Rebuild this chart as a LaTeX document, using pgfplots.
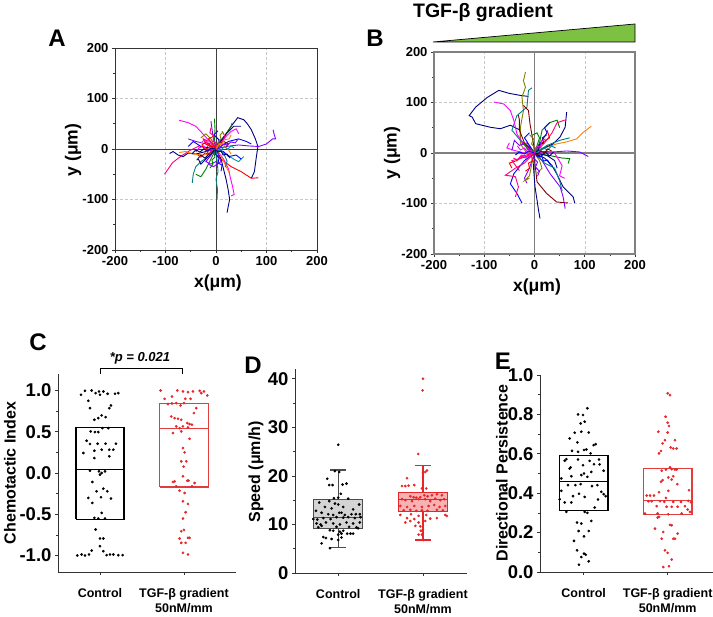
\documentclass[border=0pt]{standalone}
\usepackage{pgfplots}
\pgfplotsset{compat=1.18}
\usepackage{fontspec}
\setmainfont{Liberation Sans}
\definecolor{cnavy}{HTML}{000080}
\definecolor{cblue}{HTML}{0000FF}
\definecolor{cred}{HTML}{FF0000}
\definecolor{cmag}{HTML}{FF00FF}
\definecolor{cviol}{HTML}{8000FF}
\definecolor{cteal}{HTML}{008080}
\definecolor{colive}{HTML}{808000}
\definecolor{cmaroon}{HTML}{800000}
\definecolor{corange}{HTML}{FF8000}
\definecolor{cgreen}{HTML}{008000}
\definecolor{cpink}{HTML}{FF0080}
\definecolor{ccyan}{HTML}{009999}
\definecolor{bred}{HTML}{E8262A}
\definecolor{bredline}{HTML}{E23C3C}
\definecolor{wedge}{HTML}{7DC142}
\pgfplotsset{
  trajax/.style={scale only axis, anchor=south west, width=202pt, height=202pt,
    xmin=-200,xmax=200,ymin=-200,ymax=200,
    xtick={-200,-100,0,100,200}, ytick={-200,-100,0,100,200},
    xticklabels={-200,-100,0,100,200}, yticklabels={-200,-100,0,100,200},
    minor tick num=1, tick align=outside, tick pos=left,
    grid=major, major grid style={densely dashed, black!22, line width=0.4pt},
    major tick length=3pt, minor tick length=2pt,
    tick style={black!80, line width=0.6pt},
    ticklabel style={font=\bfseries\fontsize{13}{13}\selectfont},
    every axis plot/.append style={line width=0.9pt}},
  boxax/.style={scale only axis, anchor=south west, clip=false,
    axis x line*=bottom, axis y line*=left,
    axis line style={-, line width=0.8pt, black!80},
    tick align=outside, xtick={1,2},
    xticklabels={Control,{TGF-β gradient\\50nM/mm}},
    xticklabel style={align=center, font=\bfseries\fontsize{12.5}{15}\selectfont, yshift=-10pt},
    yticklabel style={font=\bfseries\fontsize{18.5}{18}\selectfont},
    minor y tick num=1, major tick length=3pt, minor tick length=2pt,
    tick style={black!80, line width=0.6pt}},
  ptsk/.style={only marks, mark=*, mark size=1.15pt, black},
  ptsr/.style={only marks, mark=*, mark size=1.15pt, bred},
  bx/.style={line width=1.2pt, line join=miter, mark=none}
}
\begin{document}
\begin{tikzpicture}
\useasboundingbox (0pt,0pt) rectangle (713pt,617pt);
% ---------------- Panel A ----------------
\begin{axis}[trajax, at={(115pt,367pt)}, axis line style={black!80, line width=0.8pt}]
\draw[black!75, line width=0.9pt] (axis cs:0,-200) -- (axis cs:0,200);
\draw[black!75, line width=0.9pt] (axis cs:-200,0) -- (axis cs:200,0);
\addplot[cnavy] coordinates {(0,0)(8,15)(20,30)(30,45)(43,62)(55,58)(62,50)(70,38)(78,20)(83,5)(80,-15)(78,-30)(76,-45)(70,-58)};
\addplot[cviol] coordinates {(0,0)(20,5)(45,8)(65,6)(85,5)(100,10)(112,20)(118,20)(115,30)(113,38)};
\addplot[cred] coordinates {(0,0)(-5,-5)(10,-20)(30,-35)(50,-45)(70,-58)(84,-57)};
\addplot[cpink] coordinates {(0,0)(-15,0)(-33,6)(-50,-2)(-69,-14)(-86,-27)(-95,-40)(-102,-50)};
\addplot[cmag] coordinates {(0,0)(-8,10)(-26,30)(-40,45)(-55,52)(-73,57)};
\addplot[cnavy] coordinates {(0,0)(-20,-5)(-40,-10)(-55,-8)(-65,-15)(-75,-12)(-85,-5)(-92,-9)};
\addplot[cteal] coordinates {(0,0)(2,-20)(4,-45)(0,-60)(3,-80)(2,-100)};
\addplot[cnavy] coordinates {(0,0)(10,-20)(15,-40)(20,-60)(24,-80)(27,-100)(24,-115)(22,-126)};
\addplot[cmag] coordinates {(0,0)(15,-20)(25,-40)(28,-55)(33,-75)(36,-90)(30,-93)};
\addplot[cgreen] coordinates {(0,0)(-3,20)(-2,40)(-3,60)};
\addplot[cgreen] coordinates {(0,0)(10,15)(20,30)(30,45)(32,52)};
\addplot[cteal] coordinates {(0,0)(-15,-15)(-30,-25)(-40,-35)(-45,-50)(-47,-67)};
\addplot[cgreen] coordinates {(0,0)(-10,-20)(-20,-40)(-30,-55)(-40,-50)};
\addplot[corange] coordinates {(0,0)(-10,-10)(-25,-12)(-45,-10)(-60,-5)(-73,-7)};
\addplot[corange] coordinates {(0,0)(10,-15)(20,-35)(26,-47)};
\addplot[cviol] coordinates {(0,0)(-5,20)(-8,40)(-10,55)};
\addplot[cblue] coordinates {(0,0)(25,15)(45,20)(60,15)(70,10)};
\addplot[cnavy] coordinates {(0,0)(20,30)(35,45)(50,45)};
\addplot[cviol] coordinates {(0,0)(-20,10)(-40,15)(-55,20)};
\addplot[colive] coordinates {(0,0)(-10,20)(-20,30)(-30,22)};
\addplot[cred] coordinates {(0,0)(-10,5)(-20,10)(-25,20)(-15,15)};
\addplot[ccyan] coordinates {(0,0)(20,-10)(35,-20)(45,-25)(55,-15)};
\addplot[cmag] coordinates {(0,0)(20,25)(30,35)(40,40)(45,30)};
\addplot[cblue] coordinates {(0,0)(15,-5)(25,-15)(40,-12)(50,-20)};
\addplot[cmaroon] coordinates {(0,0)(5,10)(15,15)(25,10)(20,5)};
\addplot[cviol] coordinates {(0,0)(-12,-15)(-20,-25)(-10,-30)(0,-25)};
\addplot[cred] coordinates {(0,0)(-15,8)(-20,-3)(-12,-12)};
\addplot[cpink] coordinates {(0,0)(10,10)(18,25)(12,35)};
\addplot[cnavy] coordinates {(0,0)(-20,-20)(-30,-30)(-35,-20)};
\addplot[corange] coordinates {(0,0)(5,12)(15,8)(25,-2)(30,-10)};
\addplot[cblue] coordinates {(0,0)(-30,5)(-45,15)(-55,5)};
\addplot[cred] coordinates {(0,0)(-8,12)(-15,20)(-5,25)};
\addplot[cviol] coordinates {(0,0)(10,-25)(-5,-35)(-15,-30)};
\addplot[cnavy] coordinates {(0,0)(-12,-8)(-22,-18)(-30,-12)(-38,-22)};
\addplot[cmag] coordinates {(0,0)(-18,-4)(-24,6)(-34,2)(-40,-6)};
\addplot[cteal] coordinates {(0,0)(14,-6)(22,-24)(18,-36)};
\addplot[cblue] coordinates {(0,0)(6,18)(-4,28)(4,36)};
\addplot[cred] coordinates {(0,0)(-20,14)(-28,8)(-22,-2)};
\addplot[cmag] coordinates {(0,0)(-6,4)(-10,12)(-16,10)(-22,18)(-28,14)};
\addplot[cnavy] coordinates {(0,0)(4,-6)(10,-4)(14,-12)(22,-10)(28,-18)};
\addplot[cgreen] coordinates {(0,0)(-4,-8)(-2,-16)(-8,-22)(-6,-30)(-12,-38)};
\addplot[colive] coordinates {(0,0)(6,6)(4,14)(10,20)(8,28)(14,34)};
\addplot[cred] coordinates {(0,0)(-8,-2)(-14,-10)(-22,-8)(-30,-16)(-36,-12)};
\addplot[cviol] coordinates {(0,0)(8,2)(14,10)(22,8)(30,14)(38,12)(44,20)};
\addplot[cpink] coordinates {(0,0)(2,10)(-6,16)(-4,26)(-12,32)(-10,42)};
\addplot[cblue] coordinates {(0,0)(-2,-10)(6,-18)(4,-28)(12,-32)(10,-44)};
\addplot[ccyan] coordinates {(0,0)(10,-2)(16,4)(24,0)(30,6)(36,2)};
\addplot[cnavy] coordinates {(0,0)(-10,2)(-16,-4)(-24,0)(-32,-6)(-40,-2)(-48,-10)};
\addplot[corange] coordinates {(0,0)(4,8)(12,10)(16,18)(26,20)(30,28)};
\addplot[cred] coordinates {(0,0)(-4,6)(-12,4)(-14,12)(-20,8)};
\end{axis}
% ---------------- Panel B ----------------
\begin{axis}[trajax, at={(434pt,363pt)}, width=201pt, axis line style={black!50, line width=1.3pt}]
\draw[black!50, line width=1.3pt] (axis cs:0,-200) -- (axis cs:0,200);
\draw[black!50, line width=1.3pt] (axis cs:-200,0) -- (axis cs:200,0);
\addplot[cnavy] coordinates {(0,0)(-10,10)(-28,25)(-28,45)(-48,55)(-68,48)(-88,51)(-117,58)(-124,71)(-130,74)(-117,91)(-94,110)(-71,124)(-50,118)(-28,114)(-12,112)};
\addplot[colive] coordinates {(0,0)(-15,-1)(-28,18)(-28,51)(-22,84)(-25,111)(-18,130)(-22,143)(-18,160)};
\addplot[cteal] coordinates {(0,0)(-15,10)(-28,25)(-45,45)(-35,74)(-15,91)(-12,124)(-5,129)};
\addplot[cmag] coordinates {(0,0)(-20,15)(-35,38)(-41,64)(-48,84)(-61,97)(-81,101)};
\addplot[cmaroon] coordinates {(0,0)(-2,18)(-9,58)(-12,84)(-22,94)};
\addplot[cmaroon] coordinates {(0,0)(-20,20)(-30,45)(-30,65)(-32,75)};
\addplot[corange] coordinates {(0,0)(20,10)(44,18)(64,22)(84,28)(97,41)(113,53)};
\addplot[cmaroon] coordinates {(0,0)(1,-21)(5,-57)(24,-80)(44,-97)(67,-99)};
\addplot[cnavy] coordinates {(0,0)(20,-10)(35,-25)(44,-41)(57,-67)(77,-87)(80,-99)};
\addplot[cviol] coordinates {(0,0)(20,3)(37,2)(64,4)(90,2)(107,-7)};
\addplot[cviol] coordinates {(0,0)(15,-15)(31,-41)(51,-67)(57,-87)(61,-110)};
\addplot[cnavy] coordinates {(0,0)(-2,-28)(1,-67)(5,-93)(8,-113)(11,-130)};
\addplot[cblue] coordinates {(0,0)(-20,-15)(-41,-41)(-48,-61)(-35,-80)(-25,-99)};
\addplot[cpink] coordinates {(0,0)(-20,-20)(-38,-30)(-58,-44)(-38,-47)(-32,-67)(-38,-87)};
\addplot[cnavy] coordinates {(0,0)(15,8)(37,18)(51,32)(61,51)(64,81)};
\addplot[cgreen] coordinates {(0,0)(10,20)(15,45)(30,60)(45,65)(50,50)};
\addplot[cgreen] coordinates {(0,0)(30,-5)(55,-10)(70,-11)(67,-21)};
\addplot[cteal] coordinates {(0,0)(25,15)(50,25)(70,30)};
\addplot[cred] coordinates {(0,0)(-20,-5)(-35,-15)(-50,-20)(-45,-30)};
\addplot[cmag] coordinates {(0,0)(-20,0)(-40,5)(-55,10)(-50,20)};
\addplot[cpink] coordinates {(0,0)(20,20)(35,40)(45,60)(60,65)};
\addplot[cblue] coordinates {(0,0)(15,25)(25,40)(20,50)(30,60)};
\addplot[cviol] coordinates {(0,0)(-10,-30)(-20,-50)(-15,-60)};
\addplot[cmag] coordinates {(0,0)(40,0)(55,-25)(50,-45)(60,-50)};
\addplot[cteal] coordinates {(0,0)(20,-20)(40,-30)(50,-55)(55,-75)};
\addplot[colive] coordinates {(0,0)(-5,-20)(-10,-45)(-20,-55)(-10,-50)};
\addplot[cpink] coordinates {(0,0)(-25,-10)(-45,-15)(-30,-35)};
\addplot[cnavy] coordinates {(0,0)(25,-5)(40,-15)(45,-30)};
\addplot[cviol] coordinates {(0,0)(-15,20)(-30,15)(-40,25)(-45,5)};
\addplot[cgreen] coordinates {(0,0)(10,30)(5,40)(-5,35)};
\addplot[cred] coordinates {(0,0)(15,20)(30,30)(25,45)};
\addplot[colive] coordinates {(0,0)(10,-15)(15,-30)(5,-40)};
\addplot[cblue] coordinates {(0,0)(-10,15)(-20,30)(-10,40)};
\addplot[cmag] coordinates {(0,0)(-14,-8)(-26,-4)(-34,-14)};
\addplot[cnavy] coordinates {(0,0)(12,-8)(22,2)(30,-6)(38,2)};
\addplot[cteal] coordinates {(0,0)(8,12)(18,8)(26,16)};
\addplot[cmag] coordinates {(0,0)(-8,6)(-14,2)(-20,10)(-28,6)(-34,14)};
\addplot[cblue] coordinates {(0,0)(6,-8)(14,-6)(18,-16)(26,-14)(32,-24)};
\addplot[cred] coordinates {(0,0)(-6,-6)(-4,-16)(-12,-20)(-10,-30)(-18,-36)};
\addplot[cnavy] coordinates {(0,0)(8,6)(10,16)(18,20)(16,30)(24,36)};
\addplot[cpink] coordinates {(0,0)(-10,-2)(-18,-10)(-26,-6)(-34,-14)(-42,-10)};
\addplot[cteal] coordinates {(0,0)(10,2)(18,10)(26,6)(34,14)(42,10)};
\addplot[colive] coordinates {(0,0)(2,10)(-6,18)(-2,28)(-10,36)};
\addplot[cviol] coordinates {(0,0)(-2,-10)(6,-18)(2,-28)(10,-36)(6,-46)};
\addplot[cgreen] coordinates {(0,0)(-6,8)(-14,6)(-18,16)(-26,20)};
\addplot[cmaroon] coordinates {(0,0)(6,-4)(12,4)(20,0)(26,8)(34,4)};
\addplot[cblue] coordinates {(0,0)(-12,4)(-20,-2)(-30,2)(-38,-4)};
\addplot[cmag] coordinates {(0,0)(4,12)(12,14)(14,24)(22,28)};
\end{axis}
% gradient wedge and title
\filldraw[fill=wedge, draw=black, line width=0.7pt] (433pt,575pt) -- (635pt,593pt) -- (635pt,575pt) -- cycle;
\node[font=\bfseries\fontsize{19.5}{20}\selectfont] at (483pt,604pt) {TGF-β gradient};
% ---------------- Panel C ----------------
\begin{axis}[boxax, at={(58pt,45pt)}, width=178pt, height=198pt,
  xmin=0.5, xmax=2.62, ymin=-1.2, ymax=1.2,
  ytick={-1,-0.5,0,0.5,1}, yticklabels={-1.0,-0.5,0.0,0.5,1.0}]
\addplot[bx, draw=black] coordinates {(0.715,-0.56)(1.285,-0.56)(1.285,0.55)(0.715,0.55)(0.715,-0.56)};
\addplot[bx, draw=black] coordinates {(0.715,0.04)(1.285,0.04)};
\addplot[bx, draw=bredline] coordinates {(1.71,-0.17)(2.29,-0.17)(2.29,0.84)(1.71,0.84)(1.71,-0.17)};
\addplot[bx, draw=bredline] coordinates {(1.71,0.54)(2.29,0.54)};
\addplot[ptsk] coordinates {(0.774,0.948)(0.821,0.996)(0.901,1.0)(0.948,0.968)(0.988,0.988)(1.0,0.948)(1.040,0.988)(1.091,0.96)(1.179,0.96)(1.218,0.968)(0.861,0.875)(0.881,0.786)(1.111,0.786)(1.131,0.819)(0.933,0.645)(0.980,0.665)(1.020,0.698)(1.067,0.677)(0.889,0.504)(0.940,0.496)(0.980,0.496)(1.028,0.544)(1.099,0.544)(0.841,0.391)(0.881,0.351)(0.972,0.355)(1.067,0.355)(1.190,0.355)(0.802,0.242)(0.933,0.270)(1.020,0.282)(1.111,0.282)(1.159,0.282)(0.933,0.181)(1.111,0.202)(0.881,0.028)(0.988,0.020)(1.020,0.0)(1.060,0.020)(1.0,-0.020)(0.909,-0.109)(0.960,-0.222)(1.040,-0.190)(1.087,-0.222)(0.861,-0.302)(0.909,-0.363)(1.012,-0.294)(1.131,-0.310)(1.020,-0.484)(0.933,-0.544)(0.980,-0.552)(1.060,-0.552)(0.948,-0.685)(1.0,-0.794)(1.040,-0.794)(1.0,-0.887)(0.901,-0.940)(1.040,-0.948)(0.730,-1.0)(0.782,-0.988)(0.821,-1.0)(0.869,-0.988)(1.079,-0.996)(1.119,-0.988)(1.159,-0.988)(1.218,-0.996)(1.270,-0.996)};
\addplot[ptsr] coordinates {(1.722,1.0)(1.921,1.0)(1.988,0.988)(2.048,0.980)(2.107,0.988)(2.187,0.996)(2.238,0.988)(2.206,0.968)(2.278,0.940)(1.770,0.899)(1.857,0.927)(2.016,0.899)(2.079,0.899)(1.810,0.835)(1.857,0.843)(1.909,0.847)(1.960,0.819)(2.0,0.847)(2.147,0.786)(2.119,0.726)(1.849,0.685)(1.889,0.665)(1.929,0.657)(1.968,0.645)(2.040,0.605)(2.067,0.593)(2.095,0.585)(1.909,0.565)(1.988,0.565)(2.048,0.552)(1.948,0.544)(1.869,0.484)(1.968,0.504)(2.067,0.415)(1.988,0.302)(2.008,0.250)(1.968,0.141)(2.028,0.141)(1.996,0.077)(1.988,-0.040)(1.889,-0.101)(1.869,-0.109)(2.040,-0.093)(2.056,-0.093)(2.127,-0.121)(1.909,-0.161)(1.948,-0.214)(2.008,-0.242)(2.095,-0.161)(1.988,-0.343)(2.048,-0.375)(2.020,-0.476)(1.988,-0.552)(1.968,-0.706)(2.0,-0.690)(1.948,-0.794)(1.968,-0.847)(2.048,-0.786)(2.067,-0.786)(2.020,-0.847)(1.988,-0.968)(2.048,-0.988)};
\end{axis}
\draw[black, line width=0.7pt] (100pt,243pt) -- (100pt,249pt) -- (182pt,249pt) -- (182pt,243pt);
\node[font=\bfseries\itshape\fontsize{13}{13}\selectfont] at (140pt,259pt) {*p = 0.021};
% ---------------- Panel D ----------------
\begin{axis}[boxax, at={(295pt,44pt)}, width=172pt, height=204pt,
  xmin=0.49, xmax=2.52, ymin=0, ymax=42,
  ytick={0,10,20,30,40}, yticklabels={0,10,20,30,40}]
\addplot[bx, draw=black!70] coordinates {(1,15.2)(1,21.2)};
\addplot[bx, draw=black!70] coordinates {(1,9.15)(1,5.2)};
\addplot[bx, draw=black!70] coordinates {(0.905,21.2)(1.095,21.2)};
\addplot[bx, draw=black!70] coordinates {(0.905,5.2)(1.095,5.2)};
\addplot[bx, draw=black!70, fill=black!17] coordinates {(0.71,9.15)(1.29,9.15)(1.29,15.2)(0.71,15.2)(0.71,9.15)};
\addplot[bx, draw=black!70] coordinates {(0.71,11.5)(1.29,11.5)};
\addplot[bx, draw=bred] coordinates {(2,16.6)(2,22.1)};
\addplot[bx, draw=bred] coordinates {(2,12.6)(2,6.8)};
\addplot[bx, draw=bred] coordinates {(1.905,22.1)(2.095,22.1)};
\addplot[bx, draw=bred] coordinates {(1.905,6.8)(2.095,6.8)};
\addplot[bx, draw=bred, fill=bred!35] coordinates {(1.71,12.6)(2.29,12.6)(2.29,16.6)(1.71,16.6)(1.71,12.6)};
\addplot[bx, draw=bred] coordinates {(1.71,15.1)(2.29,15.1)};
\addplot[ptsk] coordinates {(1.0,26.4)(0.961,20.97)(1.012,20.8)(0.871,19.4)(0.894,18.1)(0.933,18.1)(1.051,18.2)(1.098,18.4)(1.031,16.3)(1.0,15.5)(0.776,14.5)(0.894,14.8)(0.949,15.4)(0.961,14.3)(1.0,14.1)(0.843,13.6)(0.922,13.3)(1.059,13.6)(1.118,15.3)(1.176,13.1)(1.247,14.1)(0.737,12.8)(0.804,12.4)(0.882,12.1)(0.941,11.95)(1.012,12.4)(1.039,12.4)(1.078,11.95)(1.157,12.1)(1.208,12.1)(1.255,12.1)(0.706,11.1)(0.753,11.0)(0.824,11.3)(0.910,11.1)(0.980,11.5)(1.059,11.4)(1.118,11.5)(1.196,11.3)(1.263,11.5)(0.745,10.2)(0.792,10.0)(0.855,10.4)(0.941,10.2)(1.020,10.0)(1.098,10.4)(1.176,10.2)(1.255,10.4)(0.765,9.4)(0.804,9.7)(0.980,9.5)(1.129,9.5)(1.216,9.4)(1.235,9.2)(0.902,8.8)(0.941,8.7)(1.020,8.5)(1.059,8.7)(0.824,7.4)(0.855,7.2)(1.0,7.9)(1.039,8.1)(1.106,8.1)(1.145,8.1)(1.176,8.1)(0.922,7.0)(1.039,7.3)(0.804,6.1)(1.0,6.8)(0.902,5.1)};
\addplot[ptsr] coordinates {(2.0,40.0)(1.996,37.6)(1.945,24.5)(2.0,20.6)(2.027,20.8)(2.047,21.1)(1.812,19.5)(1.753,17.9)(1.792,17.9)(1.831,18.0)(1.898,18.1)(1.988,17.4)(2.039,17.4)(1.851,15.8)(1.890,15.6)(1.922,15.5)(1.969,15.6)(2.016,16.0)(2.055,15.8)(2.106,16.0)(2.165,16.2)(2.224,16.0)(1.753,15.2)(1.792,15.0)(1.871,14.8)(1.949,15.2)(2.027,15.2)(2.086,14.8)(2.145,15.3)(2.204,15.0)(2.251,15.2)(1.733,13.8)(1.812,13.6)(1.898,13.8)(1.988,13.6)(2.067,13.8)(2.133,14.0)(2.196,13.6)(2.263,13.8)(1.773,12.9)(1.851,13.0)(1.922,12.8)(1.988,12.9)(2.055,12.8)(2.165,13.0)(2.235,12.9)(1.733,11.95)(1.859,12.1)(1.949,11.75)(2.039,11.95)(2.263,11.95)(1.812,11.3)(1.898,11.1)(2.086,11.2)(2.165,11.3)(2.282,11.75)(1.792,10.4)(1.851,10.7)(1.949,10.4)(2.027,10.7)(1.910,9.7)(1.969,9.6)(2.0,8.9)(1.976,8.7)(1.949,7.9)(1.988,7.9)(2.008,6.8)};
\end{axis}
% ---------------- Panel E ----------------
\begin{axis}[boxax, at={(540pt,45pt)}, width=173pt, height=197pt,
  xmin=0.48, xmax=2.54, ymin=0, ymax=1,
  ytick={0,0.2,0.4,0.6,0.8,1.0}, yticklabels={0.0,0.2,0.4,0.6,0.8,1.0}]
\addplot[bx, draw=black] coordinates {(0.71,0.312)(1.29,0.312)(1.29,0.59)(0.71,0.59)(0.71,0.312)};
\addplot[bx, draw=black] coordinates {(0.71,0.461)(1.29,0.461)};
\addplot[bx, draw=bredline] coordinates {(1.71,0.292)(2.29,0.292)(2.29,0.524)(1.71,0.524)(1.71,0.292)};
\addplot[bx, draw=bredline] coordinates {(1.71,0.363)(2.29,0.363)};
\addplot[ptsk] coordinates {(1.044,0.831)(0.933,0.80)(0.992,0.797)(1.012,0.763)(0.964,0.754)(0.893,0.707)(0.972,0.712)(1.060,0.708)(0.833,0.678)(0.925,0.658)(1.119,0.644)(1.143,0.649)(0.861,0.615)(0.933,0.61)(1.004,0.619)(1.032,0.622)(1.083,0.602)(0.794,0.573)(0.774,0.565)(0.933,0.571)(1.071,0.564)(1.183,0.571)(0.833,0.525)(0.845,0.531)(0.992,0.542)(1.123,0.547)(1.190,0.546)(1.238,0.514)(0.734,0.475)(0.853,0.486)(0.972,0.492)(1.044,0.483)(1.004,0.5)(1.091,0.508)(0.813,0.441)(0.901,0.441)(0.964,0.446)(1.163,0.441)(1.099,0.436)(0.734,0.412)(0.873,0.385)(0.944,0.397)(1.012,0.381)(1.210,0.407)(1.238,0.395)(1.262,0.385)(0.714,0.369)(0.774,0.353)(0.853,0.353)(1.171,0.368)(1.131,0.327)(0.794,0.305)(1.012,0.305)(1.044,0.3)(0.921,0.251)(0.972,0.246)(1.091,0.259)(0.940,0.208)(1.060,0.208)(1.004,0.181)(0.885,0.158)(0.921,0.110)(1.004,0.093)(1.024,0.088)(0.972,0.076)(1.060,0.054)(0.944,0.037)};
\addplot[ptsr] coordinates {(2.0,0.907)(2.028,0.898)(1.976,0.788)(2.0,0.758)(2.016,0.741)(1.889,0.712)(2.0,0.708)(1.968,0.669)(2.087,0.669)(1.940,0.653)(2.036,0.632)(2.107,0.627)(2.067,0.627)(1.921,0.614)(1.897,0.602)(2.028,0.531)(2.048,0.522)(2.087,0.520)(2.107,0.520)(1.929,0.514)(1.980,0.520)(2.067,0.486)(2.008,0.480)(1.940,0.466)(2.048,0.469)(1.921,0.458)(2.115,0.446)(2.254,0.415)(1.897,0.405)(2.008,0.412)(1.750,0.388)(1.790,0.388)(1.837,0.388)(1.980,0.376)(1.770,0.359)(1.810,0.359)(1.909,0.359)(1.960,0.356)(2.067,0.356)(2.159,0.356)(2.246,0.361)(2.278,0.354)(1.869,0.334)(1.988,0.331)(2.048,0.331)(2.119,0.331)(2.206,0.334)(2.238,0.317)(1.730,0.297)(1.881,0.297)(2.008,0.293)(2.167,0.297)(2.266,0.305)(1.897,0.280)(1.881,0.276)(2.028,0.239)(2.048,0.237)(1.849,0.220)(1.948,0.203)(2.119,0.195)(1.929,0.169)(2.067,0.169)(2.087,0.169)(1.968,0.110)(2.0,0.097)(2.048,0.063)(1.948,0.025)(2.016,0.029)};
\end{axis}
% ---------------- labels ----------------
\node[font=\bfseries\fontsize{17.5}{18}\selectfont, rotate=90] at (73pt,467pt) {y (μm)};
\node[font=\bfseries\fontsize{17.5}{18}\selectfont] at (218pt,334pt) {x(μm)};
\node[font=\bfseries\fontsize{17.5}{18}\selectfont, rotate=90] at (392pt,464pt) {y (μm)};
\node[font=\bfseries\fontsize{17.5}{18}\selectfont] at (537pt,330pt) {x(μm)};
\node[font=\bfseries\fontsize{16}{16}\selectfont, rotate=90] at (10pt,144pt) {Chemotactic Index};
\node[font=\bfseries\fontsize{16}{16}\selectfont, rotate=90] at (256pt,145pt) {Speed (μm/h)};
\node[font=\bfseries\fontsize{16}{16}\selectfont, rotate=90] at (502pt,144pt) {Directional Persistence};
\node[font=\bfseries\fontsize{24}{24}\selectfont] at (57pt,579pt) {A};
\node[font=\bfseries\fontsize{24}{24}\selectfont] at (375pt,579pt) {B};
\node[font=\bfseries\fontsize{24}{24}\selectfont] at (38pt,275pt) {C};
\node[font=\bfseries\fontsize{24}{24}\selectfont] at (253pt,252pt) {D};
\node[font=\bfseries\fontsize{24}{24}\selectfont] at (503pt,256pt) {E};
\end{tikzpicture}
\end{document}
